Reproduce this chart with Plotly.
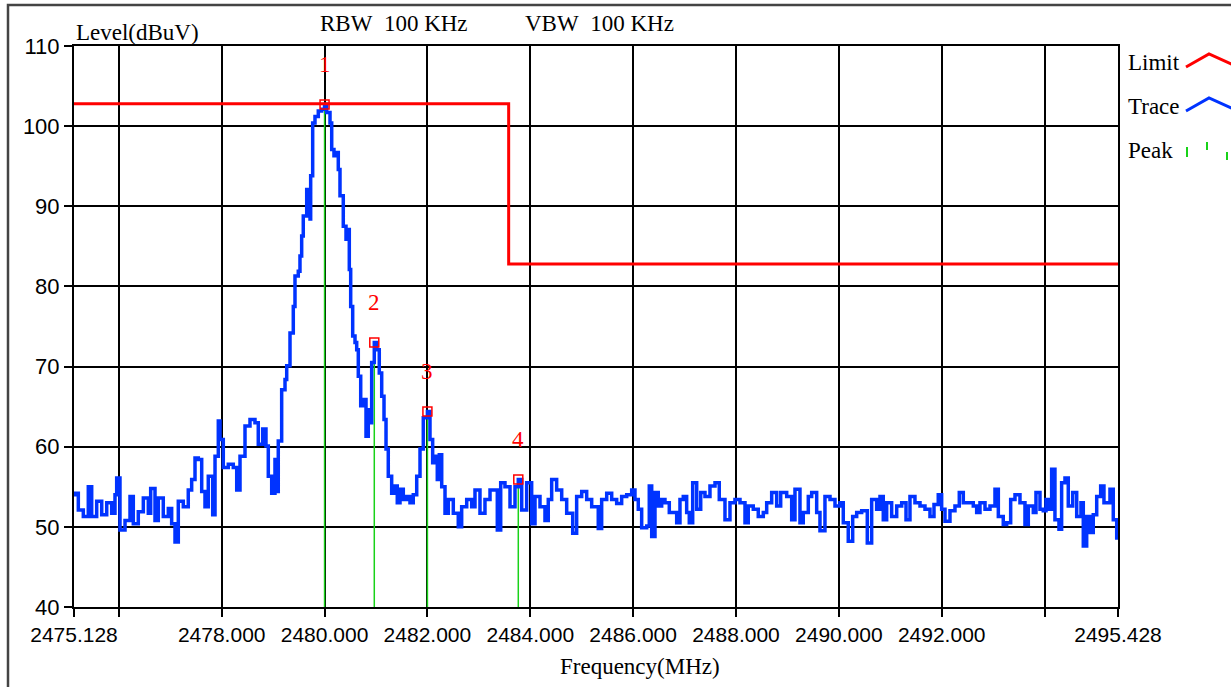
import plotly.graph_objects as go

# ---------------- data ----------------
trace_freq = [
    2475.128, 2475.147, 2475.212, 2475.309, 2475.406, 2475.472, 2475.569, 2475.667, 2475.764, 2475.861,
    2475.925, 2475.958, 2476.022, 2476.120, 2476.217, 2476.281, 2476.378, 2476.476, 2476.573, 2476.619,
    2476.703, 2476.767, 2476.864, 2476.962, 2477.027, 2477.092, 2477.156, 2477.253, 2477.350, 2477.416,
    2477.481, 2477.545, 2477.611, 2477.675, 2477.739, 2477.825, 2477.870, 2477.934, 2477.967, 2478.031,
    2478.128, 2478.225, 2478.292, 2478.356, 2478.453, 2478.550, 2478.647, 2478.711, 2478.797, 2478.861,
    2478.906, 2478.972, 2479.036, 2479.069, 2479.100, 2479.166, 2479.231, 2479.264, 2479.328, 2479.392,
    2479.425, 2479.489, 2479.522, 2479.555, 2479.586, 2479.653, 2479.717, 2479.730, 2479.769, 2479.814,
    2479.878, 2479.944, 2480.000, 2480.041, 2480.106, 2480.139, 2480.183, 2480.222, 2480.267, 2480.300,
    2480.364, 2480.417, 2480.442, 2480.481, 2480.508, 2480.547, 2480.592, 2480.625, 2480.656, 2480.703,
    2480.753, 2480.806, 2480.850, 2480.883, 2480.916, 2480.967, 2481.013, 2481.064, 2481.111, 2481.156,
    2481.195, 2481.239, 2481.305, 2481.369, 2481.414, 2481.467, 2481.531, 2481.597, 2481.661, 2481.725,
    2481.792, 2481.856, 2481.920, 2482.000, 2482.050, 2482.102, 2482.147, 2482.192, 2482.231, 2482.278,
    2482.342, 2482.406, 2482.503, 2482.600, 2482.666, 2482.764, 2482.861, 2482.925, 2483.022, 2483.119,
    2483.217, 2483.314, 2483.359, 2483.425, 2483.508, 2483.606, 2483.703, 2483.767, 2483.833, 2483.930,
    2484.027, 2484.092, 2484.189, 2484.286, 2484.350, 2484.416, 2484.513, 2484.611, 2484.708, 2484.825,
    2484.902, 2485.000, 2485.097, 2485.194, 2485.322, 2485.388, 2485.486, 2485.583, 2485.680, 2485.777,
    2485.875, 2485.972, 2486.036, 2486.100, 2486.166, 2486.264, 2486.314, 2486.361, 2486.425, 2486.489,
    2486.555, 2486.619, 2486.703, 2486.781, 2486.847, 2486.911, 2486.975, 2487.041, 2487.092, 2487.158,
    2487.236, 2487.314, 2487.397, 2487.494, 2487.592, 2487.675, 2487.786, 2487.883, 2487.980, 2488.078,
    2488.175, 2488.239, 2488.336, 2488.433, 2488.531, 2488.597, 2488.694, 2488.791, 2488.869, 2488.986,
    2489.083, 2489.147, 2489.244, 2489.308, 2489.406, 2489.472, 2489.569, 2489.633, 2489.730, 2489.828,
    2489.925, 2490.022, 2490.086, 2490.183, 2490.269, 2490.347, 2490.444, 2490.553, 2490.638, 2490.735,
    2490.800, 2490.864, 2490.930, 2491.027, 2491.125, 2491.222, 2491.306, 2491.383, 2491.480, 2491.578,
    2491.675, 2491.772, 2491.850, 2491.933, 2491.999, 2492.064, 2492.161, 2492.258, 2492.342, 2492.420,
    2492.517, 2492.614, 2492.680, 2492.744, 2492.842, 2492.939, 2493.036, 2493.101, 2493.197, 2493.263,
    2493.341, 2493.425, 2493.522, 2493.619, 2493.684, 2493.781, 2493.833, 2493.911, 2493.975, 2494.028,
    2494.073, 2494.138, 2494.202, 2494.280, 2494.332, 2494.397, 2494.461, 2494.547, 2494.625, 2494.708,
    2494.753, 2494.819, 2494.883, 2494.947, 2495.014, 2495.091, 2495.155, 2495.272, 2495.336, 2495.403,
    2495.428,
]
trace_level = [
    54.0, 54.2, 52.1, 51.3, 55.0, 51.3, 53.2, 51.5, 53.0, 51.7,
    54.0, 56.1, 49.6, 50.8, 53.8, 50.4, 51.9, 53.6, 51.7, 54.8,
    50.8, 53.6, 51.3, 52.3, 50.4, 48.1, 53.2, 52.5, 54.6, 55.9,
    58.6, 58.4, 54.4, 52.5, 56.3, 51.5, 58.8, 63.2, 60.9, 57.4,
    57.8, 57.4, 54.6, 58.8, 62.6, 63.4, 63.0, 60.3, 62.2, 60.1,
    56.3, 54.2, 58.4, 54.4, 60.7, 67.1, 68.4, 70.1, 74.2, 77.5,
    81.3, 81.9, 83.8, 86.3, 88.8, 92.1, 88.4, 93.8, 100.4, 101.2,
    101.9, 102.1, 102.7, 101.7, 100.4, 97.1, 96.3, 96.7, 94.6, 91.3,
    87.5, 85.9, 87.1, 82.1, 77.5, 73.8, 73.0, 72.1, 68.8, 65.1,
    65.9, 61.3, 64.6, 63.0, 70.5, 73.0, 72.1, 69.2, 66.3, 63.4,
    59.7, 56.3, 54.2, 55.1, 53.0, 54.7, 53.4, 53.8, 53.0, 54.0,
    56.3, 59.7, 63.6, 64.4, 60.9, 58.0, 58.8, 55.9, 59.0, 55.0,
    51.7, 53.4, 51.7, 50.0, 52.5, 53.4, 52.5, 54.6, 51.7, 53.4,
    54.6, 54.6, 49.6, 55.5, 55.0, 52.5, 55.0, 55.9, 52.1, 55.5,
    50.4, 53.8, 52.5, 50.8, 53.4, 55.9, 54.6, 53.4, 51.7, 49.2,
    53.8, 54.4, 53.4, 52.5, 49.8, 53.4, 54.2, 53.4, 52.9, 53.8,
    54.0, 54.6, 53.4, 52.2, 49.9, 50.1, 55.1, 48.8, 54.3, 52.6,
    53.4, 53.0, 51.8, 51.8, 50.5, 53.4, 53.8, 51.8, 50.5, 55.5,
    52.2, 54.3, 53.8, 55.1, 55.5, 53.4, 50.9, 53.0, 53.4, 53.0,
    50.5, 52.6, 52.2, 51.3, 51.8, 53.0, 54.3, 52.6, 54.3, 53.8,
    50.9, 54.7, 50.5, 51.8, 53.8, 54.3, 51.8, 49.5, 53.8, 53.4,
    52.6, 53.0, 50.5, 48.2, 51.3, 51.8, 52.0, 48.0, 53.4, 52.2,
    53.8, 50.9, 53.0, 51.3, 52.6, 53.0, 50.9, 53.8, 53.0, 52.6,
    52.2, 51.3, 52.8, 54.0, 52.2, 50.7, 52.0, 52.6, 54.3, 53.0,
    53.0, 52.6, 51.8, 53.0, 52.2, 52.6, 54.7, 51.3, 50.3, 50.5,
    53.4, 54.0, 53.0, 50.3, 52.6, 51.8, 54.3, 52.2, 52.0, 53.4,
    52.2, 57.2, 50.9, 49.7, 55.5, 56.1, 52.6, 54.3, 51.3, 53.0,
    47.6, 51.3, 49.3, 51.5, 53.8, 55.1, 53.0, 54.7, 50.9, 48.6,
    49.0,
]

limit_freq = [2475.128, 2483.58, 2483.58, 2495.428]
limit_level = [102.8, 102.8, 82.8, 82.8]

peak_no = ["1", "2", "3", "4"]
peak_freq = [2480.000, 2480.967, 2482.000, 2483.767]
peak_level = [102.7, 73.0, 64.4, 55.9]

x_tickvals = [2475.128, 2476, 2478, 2480, 2482, 2484, 2486, 2488, 2490, 2492, 2494, 2495.428]
x_ticktext = ["2475.128", "", "2478.000", "2480.000", "2482.000", "2484.000", "2486.000",
              "2488.000", "2490.000", "2492.000", "", "2495.428"]
y_tickvals = [40, 50, 60, 70, 80, 90, 100, 110]
y_ticktext = ["40", "50", "60", "70", "80", "90", "100", "110"]

legend_names = ["Limit", "Trace", "Peak"]

# ---------------- layout geometry ----------------
W, H = 1231, 687
ML, MR, MT, MB = 74, 113, 46, 80
PW, PH = W - ML - MR, H - MT - MB

def px(x):
    return (x - ML) / PW

def py(y):
    return (H - MB - y) / PH

SERIF = "Liberation Serif, Times New Roman, serif"
SANS = "Liberation Sans, Arial, sans-serif"
RED = "#ff0000"
BLUE = "#0033ff"
GREEN = "#19d219"

fig = go.Figure()

# green peak lines
gx, gy = [], []
for f, v in zip(peak_freq, peak_level):
    gx += [f, f, None]
    gy += [40, v, None]
fig.add_trace(go.Scatter(x=gx, y=gy, mode="lines", line=dict(color=GREEN, width=1.5),
                         hoverinfo="skip", showlegend=False))

# trace
fig.add_trace(go.Scatter(x=trace_freq, y=trace_level, mode="lines", line_shape="hv",
                         line=dict(color=BLUE, width=3.5), name="Trace", showlegend=False))

# limit
fig.add_trace(go.Scatter(x=limit_freq, y=limit_level, mode="lines",
                         line=dict(color=RED, width=3), name="Limit", showlegend=False))

# peak markers
fig.add_trace(go.Scatter(x=peak_freq, y=peak_level, mode="markers",
                         marker=dict(symbol="square-open", size=9, color=RED, line=dict(width=1.5)),
                         name="Peak", showlegend=False))

annotations = []
for n, f, v in zip(peak_no, peak_freq, peak_level):
    annotations.append(dict(x=f, y=v, xref="x", yref="y", text=n, showarrow=False,
                            yshift=40, font=dict(family=SERIF, size=23, color=RED)))

annotations += [
    dict(x=px(74), y=py(32), xref="paper", yref="paper", text="Level(dBuV)", showarrow=False,
         xanchor="left", yanchor="middle", font=dict(family=SERIF, size=23, color="black")),
    dict(x=px(318), y=py(24), xref="paper", yref="paper", text="RBW\u00a0\u00a0100 KHz", showarrow=False,
         xanchor="left", yanchor="middle", font=dict(family=SERIF, size=23, color="black")),
    dict(x=px(523), y=py(24), xref="paper", yref="paper", text="VBW\u00a0\u00a0100 KHz", showarrow=False,
         xanchor="left", yanchor="middle", font=dict(family=SERIF, size=23, color="black")),
    dict(x=px(640), y=py(666), xref="paper", yref="paper", text="Frequency(MHz)", showarrow=False,
         xanchor="center", yanchor="middle", font=dict(family=SERIF, size=23, color="black")),
]

legend_y = [62, 106, 150]
for name, ly in zip(legend_names, legend_y):
    annotations.append(dict(x=px(1126), y=py(ly), xref="paper", yref="paper", text=name,
                            showarrow=False, xanchor="left", yanchor="middle",
                            font=dict(family=SERIF, size=23, color="black")))

shapes = []
# outer frame
shapes.append(dict(type="rect", xref="paper", yref="paper", x0=px(8), x1=px(1240), y0=py(696), y1=py(5),
                   line=dict(color="#444444", width=2.5), fillcolor="rgba(0,0,0,0)", layer="above"))

def caret(y0, color):
    return dict(type="path", xref="paper", yref="paper",
                path="M {} {} L {} {} L {} {}".format(px(1186), py(y0 + 6), px(1209), py(y0 - 7),
                                                      px(1240), py(y0 + 7)),
                line=dict(color=color, width=3), layer="above")

shapes.append(caret(61, RED))
shapes.append(caret(105, BLUE))
for gxp, g0, g1 in [(1187, 147, 157), (1207, 142, 150), (1227, 152, 160)]:
    shapes.append(dict(type="line", xref="paper", yref="paper", x0=px(gxp), x1=px(gxp),
                       y0=py(g0), y1=py(g1), line=dict(color=GREEN, width=2), layer="above"))

fig.update_layout(
    width=W, height=H,
    margin=dict(l=ML, r=MR, t=MT, b=MB, pad=0),
    paper_bgcolor="white", plot_bgcolor="white",
    showlegend=False,
    annotations=annotations,
    shapes=shapes,
    font=dict(family=SANS, size=22, color="black"),
)
fig.update_xaxes(range=[2475.128, 2495.428], tickmode="array", tickvals=x_tickvals, ticktext=x_ticktext,
                 tickangle=0,
                 showgrid=True, gridcolor="black", gridwidth=1.5, showline=True, linecolor="black",
                 linewidth=2, mirror=True, ticks="outside", ticklen=8, tickwidth=1.5, tickcolor="black",
                 zeroline=False, tickfont=dict(family=SANS, size=21, color="black"))
fig.update_yaxes(range=[40, 110], tickmode="array", tickvals=y_tickvals, ticktext=y_ticktext,
                 showgrid=True, gridcolor="black", gridwidth=1.5, showline=True, linecolor="black",
                 linewidth=2, mirror=True, ticks="outside", ticklen=8, tickwidth=1.5, tickcolor="black",
                 zeroline=False, tickfont=dict(family=SANS, size=22, color="black"))

fig.write_html("out.html", config={"displayModeBar": False},
               post_script="document.body.style.margin='0';")
